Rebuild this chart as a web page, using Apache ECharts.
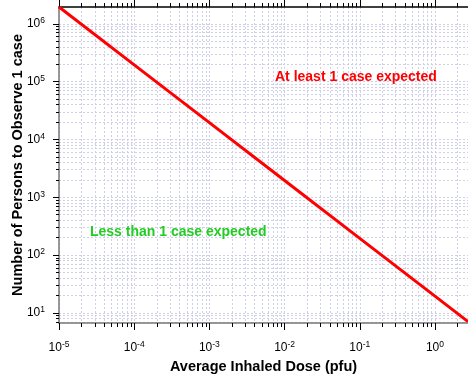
<!DOCTYPE html>
<html>
<head>
<meta charset="utf-8">
<script src="https://cdn.jsdelivr.net/npm/echarts@6/dist/echarts.min.js"></script>
<style>html,body{margin:0;padding:0;background:#fff}#c{width:468px;height:374px}</style>
</head>
<body>
<div id="c"></div>
<script>
// Data
const doses = [1e-5, 1e-4, 1e-3, 1e-2, 1e-1, 1, 2.75];
const persons = [1.95e6, 1.95e5, 19500, 1950, 195, 19.5, 7.1];
// Tick labels
const xMajor = [1e-5, 1e-4, 1e-3, 1e-2, 1e-1, 1];
const yMajor = [1e1, 1e2, 1e3, 1e4, 1e5, 1e6];
const xExtent = [1e-5, 2.75];
const yExtent = [6.7, 1.95e6];
const xTitle = 'Average Inhaled Dose (pfu)';
const yTitle = 'Number of Persons to Observe 1 case';
const noteHigh = 'At least 1 case expected';
const noteLow = 'Less than 1 case expected';

function minorsFor(extent, decadesFrom, decadesTo) {
  const out = [];
  for (let e = decadesFrom; e <= decadesTo; e++) {
    for (let k = 1; k <= 9; k++) {
      const v = parseFloat((k * Math.pow(10, e)).toPrecision(6));
      if (v >= extent[0] && v <= extent[1]) out.push(v);
    }
  }
  return out;
}
const xMinor = minorsFor(xExtent, -5, 0);
const yMinor = minorsFor(yExtent, 0, 6);

const FONT = 'Liberation Sans, Arial, Helvetica, sans-serif';
const gridColor = '#cfcfea';
const axisGray = '#777777';

function supLabel(v) {
  const e = Math.round(Math.log10(v));
  return '{b|10}{s|' + e + '}';
}
const rich = {
  b: {fontSize: 12, fontFamily: FONT, color: '#000'},
  s: {fontSize: 8.5, fontFamily: FONT, color: '#000', padding: [0, 0, 6, 0]}
};

function baseAxis(extent) {
  return {type: 'log', logBase: 10, min: extent[0], max: extent[1], gridIndex: 0};
}

const chart = echarts.init(document.getElementById('c'), null, {renderer: 'canvas'});
chart.setOption({
  animation: false,
  backgroundColor: '#fff',
  grid: {left: 59, right: 0, top: 7, bottom: 51, containLabel: false, outerBoundsMode: 'none'},
  xAxis: [
    Object.assign(baseAxis(xExtent), {
      position: 'bottom',
      name: xTitle, nameLocation: 'middle', nameGap: 36,
      nameTextStyle: {fontFamily: FONT, fontSize: 14.5, fontWeight: 'bold', color: '#000'},
      axisLine: {show: true, lineStyle: {color: axisGray, width: 1.5}},
      axisTick: {show: true, customValues: xMajor, length: 7, inside: false, lineStyle: {color: '#000'}},
      axisLabel: {show: true, customValues: xMajor, margin: 17, formatter: supLabel, rich: rich},
      splitLine: {show: false}
    }),
    Object.assign(baseAxis(xExtent), {
      position: 'bottom',
      axisLine: {show: false},
      axisTick: {show: true, customValues: xMinor, length: 4, inside: false, lineStyle: {color: '#000'}},
      axisLabel: {show: false},
      splitLine: {show: true, lineStyle: {color: gridColor, type: [2, 2], width: 1}}
    }),
    Object.assign(baseAxis(xExtent), {
      position: 'top',
      axisLine: {show: true, lineStyle: {color: '#000', width: 1.5}},
      axisTick: {show: true, customValues: xMajor, length: 7, inside: false, lineStyle: {color: '#000'}},
      axisLabel: {show: false},
      splitLine: {show: false}
    }),
    Object.assign(baseAxis(xExtent), {
      position: 'top',
      axisLine: {show: false},
      axisTick: {show: true, customValues: xMinor, length: 4, inside: false, lineStyle: {color: '#000'}},
      axisLabel: {show: false},
      splitLine: {show: false}
    })
  ],
  yAxis: [
    Object.assign(baseAxis(yExtent), {
      position: 'left',
      name: yTitle, nameLocation: 'middle', nameGap: 34, nameMoveOverlap: false,
      nameTextStyle: {fontFamily: FONT, fontSize: 14.5, fontWeight: 'bold', color: '#000'},
      axisLine: {show: true, lineStyle: {color: axisGray, width: 1.5}},
      axisTick: {show: true, customValues: yMajor, length: 6, inside: false, lineStyle: {color: '#000'}},
      axisLabel: {show: true, customValues: yMajor, margin: 14, formatter: supLabel, rich: rich},
      splitLine: {show: false}
    }),
    Object.assign(baseAxis(yExtent), {
      position: 'left',
      axisLine: {show: false},
      axisTick: {show: true, customValues: yMinor, length: 3, inside: false, lineStyle: {color: '#000'}},
      axisLabel: {show: false},
      splitLine: {show: true, lineStyle: {color: gridColor, type: [2, 2], width: 1}}
    })
  ],
  series: [{
    type: 'line',
    xAxisIndex: 0, yAxisIndex: 0,
    data: doses.map((d, i) => [d, persons[i]]),
    showSymbol: false,
    lineStyle: {color: '#ff0000', width: 3},
    clip: true,
    z: 5
  }],
  graphic: [
    {type: 'text', left: 275, top: 70, z: 10,
     style: {text: noteHigh, fill: '#ff0000', font: 'bold 14px ' + FONT}},
    {type: 'text', left: 90, top: 225, z: 10,
     style: {text: noteLow, fill: '#22cc22', font: 'bold 14px ' + FONT}}
  ]
});
</script>
</body>
</html>
